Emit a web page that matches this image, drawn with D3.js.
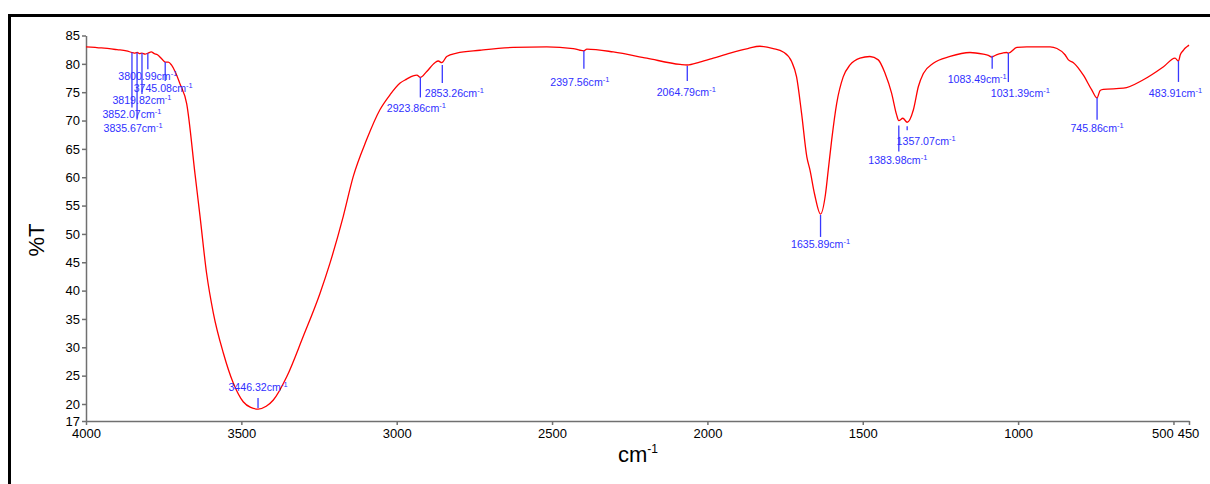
<!DOCTYPE html>
<html>
<head>
<meta charset="utf-8">
<script src="https://cdn.jsdelivr.net/npm/d3@7"></script>
<style>
    body { margin: 0; background: #fff; }
    text { font-family: "Liberation Sans", Arial, sans-serif; }
</style>
</head>
<body>
<div id="chart"></div>
<script>
// spectrum: wavenumber (cm-1) and %T
const wavenumbers = [4000, 3950, 3900, 3870, 3852, 3845, 3835, 3828, 3820, 3810, 3800, 3790, 3780, 3770, 3755, 3745, 3735, 3725, 3713, 3697,
    3676, 3649, 3633, 3612, 3590, 3558, 3526, 3494, 3470, 3446, 3420, 3397, 3354, 3301, 3247, 3215, 3172, 3140, 3097, 3054,
    3022, 2989, 2968, 2947, 2935, 2924, 2904, 2877, 2866, 2855, 2839, 2807, 2732, 2625, 2517, 2432, 2410, 2398, 2388, 2303,
    2195, 2088, 2065, 2025, 1981, 1927, 1870, 1831, 1788, 1756, 1729, 1713, 1697, 1680, 1670, 1655, 1636, 1620, 1611, 1600,
    1584, 1563, 1541, 1509, 1477, 1450, 1428, 1407, 1391, 1384, 1371, 1357, 1337, 1321, 1305, 1273, 1219, 1155, 1112, 1096,
    1085, 1070, 1050, 1037, 1031, 1004, 972, 897, 875, 849, 838, 822, 790, 763, 746, 736, 726, 661, 597, 532,
    495, 484, 478, 468, 462, 455, 450];
const transmittance = [83.0, 82.8, 82.5, 82.3, 82.0, 81.9, 82.0, 81.8, 81.9, 81.7, 81.9, 82.1, 81.8, 81.6, 80.8, 80.3, 80.3, 79.8, 78.6, 76.4,
    73.0, 60.5, 53.1, 43.1, 36.0, 29.0, 23.7, 20.4, 19.4, 19.1, 19.6, 20.7, 24.8, 31.9, 39.5, 44.8, 53.1, 60.1, 66.6, 71.9,
    74.5, 76.6, 77.3, 77.9, 78.0, 77.6, 78.6, 80.2, 80.5, 80.2, 81.3, 81.9, 82.4, 82.9, 83.0, 82.7, 82.4, 82.3, 82.6, 82.1,
    81.0, 79.9, 79.8, 80.3, 81.0, 81.9, 82.7, 83.1, 82.7, 82.1, 80.4, 77.7, 71.3, 63.6, 61.3, 57.0, 53.5, 57.0, 61.3, 66.6,
    73.0, 77.7, 79.8, 81.0, 81.3, 80.7, 78.3, 74.8, 71.0, 70.0, 70.4, 69.7, 71.9, 76.0, 78.3, 80.1, 81.3, 82.0, 81.7, 81.5,
    81.2, 81.6, 81.9, 82.0, 81.9, 82.9, 83.0, 83.0, 82.7, 81.6, 80.7, 80.2, 78.0, 75.4, 74.0, 75.3, 75.5, 75.7, 77.2, 79.5,
    81.0, 80.5, 81.6, 82.4, 82.8, 83.1, 83.3];

const peaks = [3852.07, 3835.67, 3819.82, 3800.99, 3745.08, 3446.32, 2923.86, 2853.26, 2397.56, 2064.79,
    1635.89, 1383.98, 1357.07, 1083.49, 1031.39, 745.86, 483.91];

const xTicks = [4000, 3500, 3000, 2500, 2000, 1500, 1000, 500, 450];
const yTicks = [17, 20, 25, 30, 35, 40, 45, 50, 55, 60, 65, 70, 75, 80, 85];

// marker layout per peak: [gap from curve, lead length, label dx, label dy] in px
const peakLayout = [
    [0, 55, 0, 10], [0, 67, -4, 12], [0, 41, 0, 10], [0, 16, 0, 11], [0, 19, -2, 11],
    [-1, -11, 0, -7], [0, 20, -4, 15], [3, 21, 12, 14], [0, 18, -4, 17], [1, 16, -1, 15],
    [1, 23, 0, 11], [5, 31, -1, 12], [4, 8, 19, 15], [-1, 12, -15, 14], [0, 29, 12, 15],
    [0, 22, 0, 12], [0, 21, -3, 15]
];

const render = () => {
    const width = 1210;
    const height = 484;

    const svg = d3.select("#chart").append("svg")
        .attr("width", width)
        .attr("height", height);

    const x = d3.scaleLinear().domain([4000, 450]).range([86, 1189]);
    const y = d3.scaleLinear().domain([17, 85]).range([421, 35.5]);

    const data = wavenumbers.map((w, i) => ({w: w, t: transmittance[i]}));

    // frame
    svg.append("path")
        .attr("d", `M9.5,${height} V15.5 H${width}`)
        .attr("fill", "none")
        .attr("stroke", "#000")
        .attr("stroke-width", 3);

    const xAxis = svg.append("g")
        .attr("transform", `translate(0,${y(17)})`)
        .call(d3.axisBottom(x).tickValues(xTicks).tickSize(4).tickSizeOuter(0).tickPadding(4).tickFormat(d3.format("d")));

    xAxis.selectAll("text")
        .attr("dx", d => d == 500 ? -11 : d == 450 ? -1 : 0);

    const yAxis = svg.append("g")
        .attr("transform", `translate(${x(4000)},0)`)
        .call(d3.axisLeft(y).tickValues(yTicks).tickSize(4).tickSizeOuter(0).tickPadding(2));

    svg.selectAll(".domain, .tick line")
        .attr("stroke", "#707070")
        .attr("stroke-width", 1.5);
    svg.selectAll(".tick text")
        .attr("fill", "#000")
        .style("font-size", "13px");

    svg.append("text")
        .attr("transform", "translate(44,240) rotate(-90)")
        .attr("text-anchor", "middle")
        .style("font-size", "22px")
        .text("%T");

    const xTitle = svg.append("text")
        .attr("x", 638)
        .attr("y", 462)
        .attr("text-anchor", "middle")
        .style("font-size", "22px");
    xTitle.append("tspan").text("cm");
    xTitle.append("tspan").attr("dy", -9).style("font-size", "12px").text("-1");

    const line = d3.line()
        .x(d => x(d.w))
        .y(d => y(d.t))
        .curve(d3.curveMonotoneX);

    svg.append("path")
        .datum(data)
        .attr("d", line)
        .attr("fill", "none")
        .attr("stroke", "#ff0000")
        .attr("stroke-width", 1.3);

    // %T on the curve at a given wavenumber
    const tAt = (w) => {
        const i = data.findIndex(d => d.w <= w);
        if (i <= 0) return data[0].t;
        const a = data[i - 1], b = data[i];
        return a.t + (b.t - a.t) * (a.w - w) / (a.w - b.w);
    };

    const marks = peaks.map((p, i) => {
        const [gap, len, dx, dy] = peakLayout[i];
        const cy = y(tAt(p));
        return {p: p, px: x(p), y0: cy + gap, y1: cy + len, dx: dx, dy: dy};
    });

    const g = svg.append("g");

    g.selectAll("line")
        .data(marks)
        .join("line")
        .attr("x1", d => d.px).attr("x2", d => d.px)
        .attr("y1", d => d.y0).attr("y2", d => d.y1)
        .attr("stroke", "#3838ff")
        .attr("stroke-width", 1.3);

    const labels = g.selectAll("text")
        .data(marks)
        .join("text")
        .attr("x", d => d.px + d.dx)
        .attr("y", d => d.y1 + d.dy)
        .attr("text-anchor", "middle")
        .attr("fill", "#3030ff")
        .style("font-size", "10.6px");

    labels.append("tspan").text(d => d.p.toFixed(2) + "cm");
    labels.append("tspan").attr("dy", -4).style("font-size", "7.5px").text("-1");
}

render();
</script>
</body>
</html>
